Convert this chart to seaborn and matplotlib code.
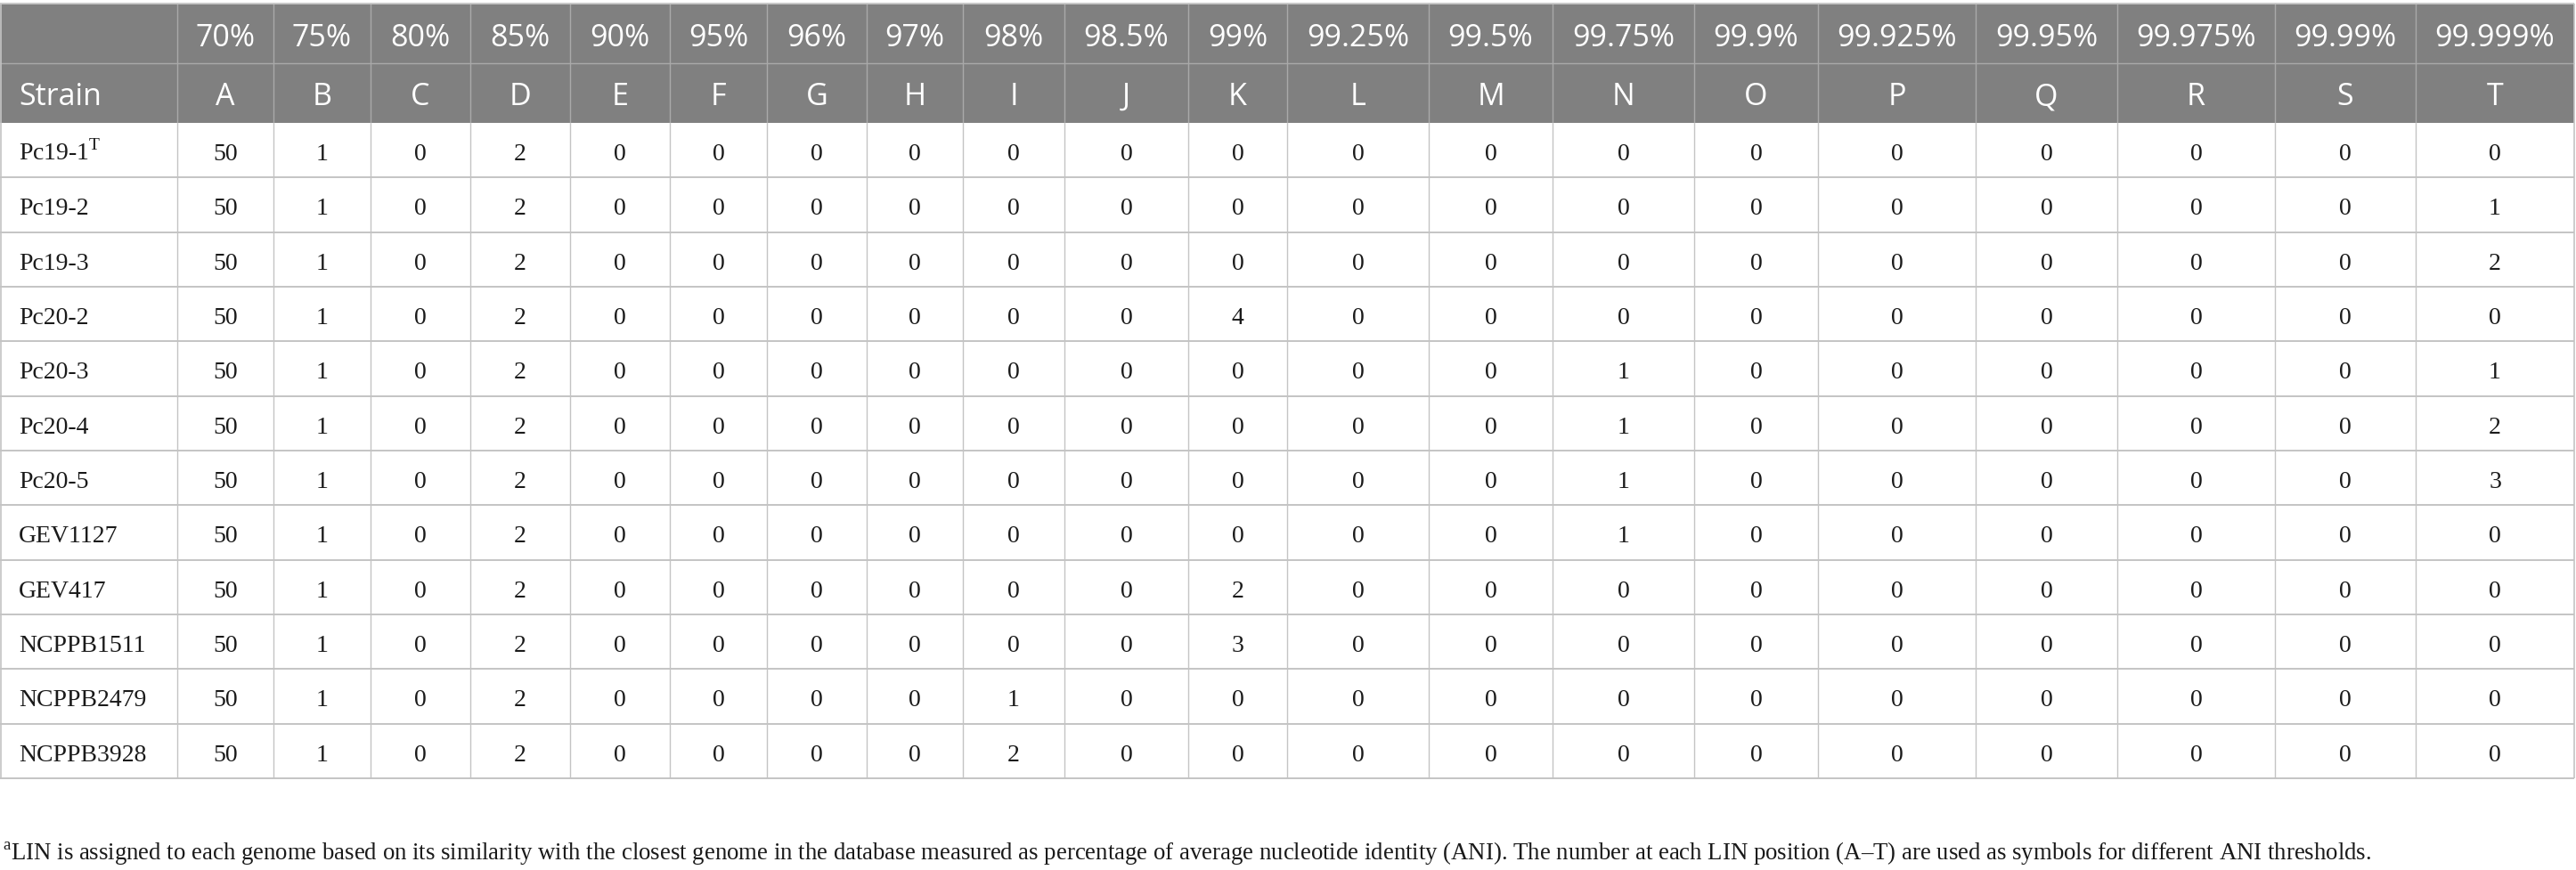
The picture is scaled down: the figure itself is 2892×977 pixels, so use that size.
import numpy as np
import pandas as pd
import matplotlib
matplotlib.use("Agg")
import matplotlib.pyplot as plt
import seaborn as sns

# LIN thresholds (ANI) and position symbols
thresholds = ["70%", "75%", "80%", "85%", "90%", "95%", "96%", "97%", "98%", "98.5%",
              "99%", "99.25%", "99.5%", "99.75%", "99.9%", "99.925%", "99.95%",
              "99.975%", "99.99%", "99.999%"]
positions = list("ABCDEFGHIJKLMNOPQRST")

strains = ["Pc19-1$^{\\mathrm{T}}$", "Pc19-2", "Pc19-3", "Pc20-2", "Pc20-3", "Pc20-4",
           "Pc20-5", "GEV1127", "GEV417", "NCPPB1511", "NCPPB2479", "NCPPB3928"]

# LIN codes, one list per strain (A..T)
pc19_1 = [50, 1, 0, 2, 0, 0, 0, 0, 0, 0, 0, 0, 0, 0, 0, 0, 0, 0, 0, 0]
pc19_2 = [50, 1, 0, 2, 0, 0, 0, 0, 0, 0, 0, 0, 0, 0, 0, 0, 0, 0, 0, 1]
pc19_3 = [50, 1, 0, 2, 0, 0, 0, 0, 0, 0, 0, 0, 0, 0, 0, 0, 0, 0, 0, 2]
pc20_2 = [50, 1, 0, 2, 0, 0, 0, 0, 0, 0, 4, 0, 0, 0, 0, 0, 0, 0, 0, 0]
pc20_3 = [50, 1, 0, 2, 0, 0, 0, 0, 0, 0, 0, 0, 0, 1, 0, 0, 0, 0, 0, 1]
pc20_4 = [50, 1, 0, 2, 0, 0, 0, 0, 0, 0, 0, 0, 0, 1, 0, 0, 0, 0, 0, 2]
pc20_5 = [50, 1, 0, 2, 0, 0, 0, 0, 0, 0, 0, 0, 0, 1, 0, 0, 0, 0, 0, 3]
gev1127 = [50, 1, 0, 2, 0, 0, 0, 0, 0, 0, 0, 0, 0, 1, 0, 0, 0, 0, 0, 0]
gev417 = [50, 1, 0, 2, 0, 0, 0, 0, 0, 0, 2, 0, 0, 0, 0, 0, 0, 0, 0, 0]
ncppb1511 = [50, 1, 0, 2, 0, 0, 0, 0, 0, 0, 3, 0, 0, 0, 0, 0, 0, 0, 0, 0]
ncppb2479 = [50, 1, 0, 2, 0, 0, 0, 0, 1, 0, 0, 0, 0, 0, 0, 0, 0, 0, 0, 0]
ncppb3928 = [50, 1, 0, 2, 0, 0, 0, 0, 2, 0, 0, 0, 0, 0, 0, 0, 0, 0, 0, 0]

footnote = ("$^{\\mathrm{a}}$LIN is assigned to each genome based on its similarity with the "
            "closest genome in the database measured as percentage of average nucleotide "
            "identity (ANI). The number at each LIN position (A\u2013T) are used as symbols "
            "for different ANI thresholds.")

df = pd.DataFrame([pc19_1, pc19_2, pc19_3, pc20_2, pc20_3, pc20_4, pc20_5,
                   gev1127, gev417, ncppb1511, ncppb2479, ncppb3928],
                  index=strains, columns=positions)

# layout (pixels)
col_w = [199, 108, 109, 112, 112, 112, 109, 112, 108, 114, 139, 111, 159, 139,
         159, 139, 177, 159, 177, 158, 178]
edges = np.concatenate([[0], np.cumsum(col_w)])
top = 4
head_h = 67
row_h = (874 - (top + 2 * head_h)) / len(df)
body_top = top + 2 * head_h
body_bot = body_top + row_h * len(df)

sns.set_theme(style="white")
plt.rcParams["mathtext.fontset"] = "custom"
plt.rcParams["mathtext.rm"] = "Liberation Serif"

fig = plt.figure(figsize=(28.92, 9.77), dpi=100)
ax = fig.add_axes([0, 0, 1, 1])
ax.set_xlim(0, 2892)
ax.set_ylim(977, 0)
ax.axis("off")

head_bg = "#808080"
head_line = "#a9a9a9"
grid = "#c4c4c4"
hfont = dict(family="Open Sans", size=24.5, color="white")
bfont = dict(family="Liberation Serif", size=20, color="#1a1a1a")

# header background
ax.add_patch(plt.Rectangle((0, top), edges[-1], 2 * head_h, color=head_bg, lw=0, zorder=1))
ax.hlines(top + head_h, 0, edges[-1], color=head_line, lw=1.0, zorder=2)
ax.vlines(edges[1:-1], top, body_top, color=head_line, lw=1.0, zorder=2)
ax.hlines(top, 0, edges[-1], color="#c8c8c8", lw=1.4, zorder=3)

# body grid
ax.hlines(body_top + row_h * np.arange(1, len(df) + 1), 0, edges[-1], color=grid, lw=1.4, zorder=2)
ax.vlines(edges[1:-1], body_top, body_bot, color=grid, lw=1.0, zorder=2)
ax.vlines([0.5, edges[-1]], top, body_bot, color=grid, lw=1.2, zorder=2)

# header text
ax.text(21, top + 2 * head_h - 20, "Strain", ha="left", va="baseline", **hfont, zorder=4)
for j, (t, p) in enumerate(zip(thresholds, positions)):
    cx = (edges[j + 1] + edges[j + 2]) / 2
    ax.text(cx, top + head_h - 19, t, ha="center", va="baseline", **hfont, zorder=4)
    ax.text(cx, top + 2 * head_h - 20, p, ha="center", va="baseline", **hfont, zorder=4)

# body text
for i, strain in enumerate(df.index):
    base = body_top + row_h * i + 42
    ax.text(21, base, strain, ha="left", va="baseline", **bfont, zorder=4)
    for j, v in enumerate(df.loc[strain]):
        cx = (edges[j + 1] + edges[j + 2]) / 2
        ax.text(cx, base, str(v), ha="center", va="baseline", **bfont, zorder=4)

ax.text(3, 965, footnote, ha="left", va="baseline", family="Liberation Serif",
        size=19.25, color="#1a1a1a", zorder=4)

fig.savefig("out.png", dpi=100)
